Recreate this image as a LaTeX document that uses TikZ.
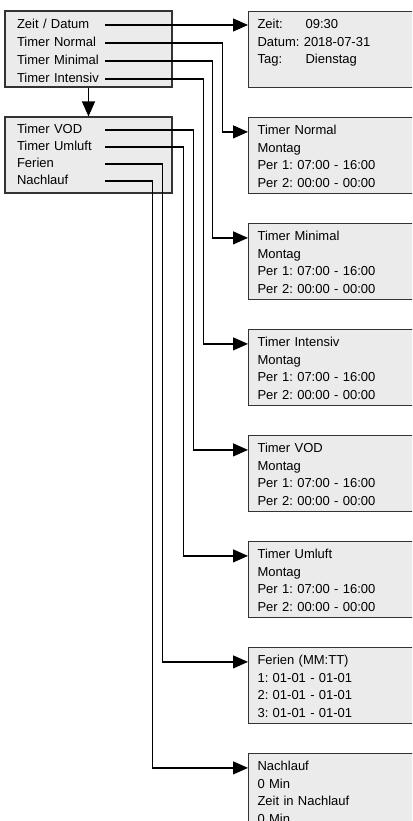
\documentclass[tikz,border=0pt]{standalone}
\usepackage{fontspec}
\setmainfont{Liberation Sans}
\usetikzlibrary{arrows.meta}
\definecolor{panel}{RGB}{235,235,235}
\definecolor{frame}{RGB}{51,51,51}
\frenchspacing

\begin{document}
\begin{tikzpicture}[
  x=1pt, y=-1pt,
  font=\fontsize{13}{17.6}\selectfont,
  >={Triangle[length=15pt,width=13pt]},
  menu/.style={draw=frame, fill=panel, rectangle,
    minimum width=167pt, minimum height=76pt,
    inner sep=0pt, line width=1.1pt},
  item/.style={rectangle, align=left, text width=88pt,
    text height=9pt, text depth=2pt, inner sep=0pt},
  screen/.style={draw=frame, fill=panel, rectangle, anchor=north west,
    align=left, text width=162pt, inner xsep=9pt, inner ysep=0pt,
    text height=17pt, text depth=59pt, line width=1.1pt},
  arrow/.style={->, draw=black, line width=1.2pt}
]
\useasboundingbox (0,0) rectangle (412,821);
\clip (0,0) rectangle (412,821);

% Menu pages
\node[menu] (page1) at (88.5,49) {};
\node[menu] (page2) at (88.5,155) {};
\draw[arrow] (page1.south) -- (page2.north);

\node[item] (zeit) at (61,25) {Zeit / Datum};
\node[item] (normal) at (61,43) {Timer Normal};
\node[item] (minimal) at (61,61) {Timer Minimal};
\node[item] (intensiv) at (61,79) {Timer Intensiv};
\node[item] (vod) at (61,130) {Timer VOD};
\node[item] (umluft) at (61,147) {Timer Umluft};
\node[item] (ferien) at (61,164) {Ferien};
\node[item] (nachlauf) at (61,181) {Nachlauf};

% Screens
\node[screen] (szeit) at (248,11)
  {\makebox[48pt][l]{Zeit:}09:30\\Datum: 2018-07-31\\\makebox[48pt][l]{Tag:}Dienstag};
\node[screen] (snormal) at (248,117)
  {Timer Normal\\Montag\\Per 1: 07:00 - 16:00\\Per 2: 00:00 - 00:00};
\node[screen] (sminimal) at (248,223)
  {Timer Minimal\\Montag\\Per 1: 07:00 - 16:00\\Per 2: 00:00 - 00:00};
\node[screen] (sintensiv) at (248,329)
  {Timer Intensiv\\Montag\\Per 1: 07:00 - 16:00\\Per 2: 00:00 - 00:00};
\node[screen] (svod) at (248,435)
  {Timer VOD\\Montag\\Per 1: 07:00 - 16:00\\Per 2: 00:00 - 00:00};
\node[screen] (sumluft) at (248,541)
  {Timer Umluft\\Montag\\Per 1: 07:00 - 16:00\\Per 2: 00:00 - 00:00};
\node[screen] (sferien) at (248,647)
  {Ferien (MM:TT)\\1: 01-01 - 01-01\\2: 01-01 - 01-01\\3: 01-01 - 01-01};
\node[screen] (snachlauf) at (248,753)
  {Nachlauf\\0 Min\\Zeit in Nachlauf\\0 Min};

% Connectors
\draw[arrow] (zeit.east) -- (zeit.east -| szeit.west);
\foreach \src/\dx in {normal/117, minimal/107, intensiv/98, vod/88,
                      umluft/78, ferien/57, nachlauf/47}
  \draw[arrow] (\src.east) -- ++(\dx,0) |- (s\src.mid west);

\end{tikzpicture}
\end{document}
